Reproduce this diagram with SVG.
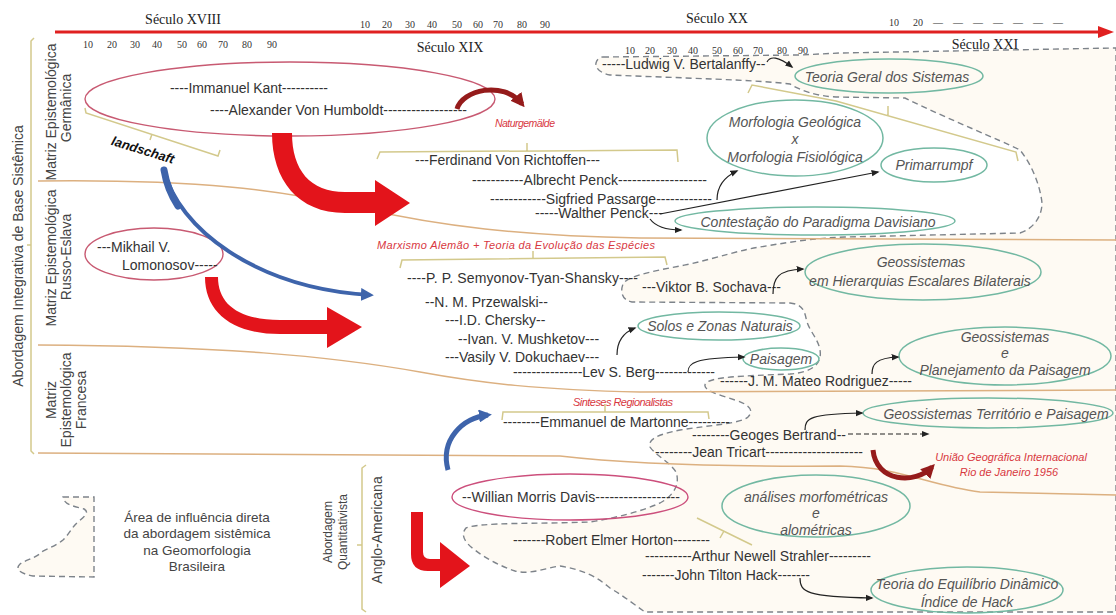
<svg xmlns="http://www.w3.org/2000/svg" width="1116" height="615" viewBox="0 0 1116 615">
<defs>
<style>
text{font-family:"Liberation Sans",Arial,sans-serif;}
.nm{font-size:14px;fill:#333;dominant-baseline:central;}
.cp{font-size:14px;font-style:italic;fill:#555;text-anchor:middle;dominant-baseline:central;}
.rd{font-size:11px;font-style:italic;fill:#d8383f;dominant-baseline:central;}
.cent{font-family:"Liberation Serif","Times New Roman",serif;font-size:14px;fill:#222;text-anchor:middle;}
.num{font-family:"Liberation Serif","Times New Roman",serif;font-size:10px;fill:#333;}
.ax{font-size:14px;fill:#444;text-anchor:middle;dominant-baseline:central;}
.lg{font-size:13.5px;fill:#444;text-anchor:middle;}
.sep{fill:none;stroke:#dcb080;stroke-width:1.5;}
.br{fill:none;stroke:#d3c98c;stroke-width:1.5;}
.pk{fill:none;stroke:#c85a72;stroke-width:1.4;}
.tl{fill:none;stroke:#72b8a2;stroke-width:1.5;}
.cn{fill:none;stroke:#222;stroke-width:1.2;marker-end:url(#ah);}
.big{fill:#e3141b;}
.dr{fill:none;stroke:#951b1b;stroke-width:5;marker-end:url(#ahR);}
.bl{fill:none;stroke:#3e64ab;stroke-width:4;marker-end:url(#ahB);}
.rg{fill:#fefaf3;stroke:#7d838a;stroke-width:1.4;stroke-dasharray:6 4;}
</style>
<marker id="ah" viewBox="0 0 10 10" refX="8" refY="5" markerWidth="8" markerHeight="8" markerUnits="userSpaceOnUse" orient="auto"><path d="M0,1 L10,5 L0,9 z" fill="#222"/></marker>
<marker id="ahR" viewBox="0 0 10 10" refX="7" refY="5" markerWidth="14" markerHeight="14" markerUnits="userSpaceOnUse" orient="auto"><path d="M0,0 L10,5 L0,10 z" fill="#951b1b"/></marker>
<marker id="ahB" viewBox="0 0 10 10" refX="7" refY="5" markerWidth="13" markerHeight="13" markerUnits="userSpaceOnUse" orient="auto"><path d="M0,0 L10,5 L0,10 z" fill="#3e64ab"/></marker>
</defs>
<rect x="0" y="0" width="1116" height="615" fill="#ffffff"/>

<g id="influence-region">
<path class="rg" d="M 603 57 L 800 55 L 840 53 L 1116 48 L 1116 612 L 645 612 C 635 605, 625 597, 610 588 C 598 578, 585 570, 560 566 C 545 568, 530 575, 515 571 C 500 566, 485 558, 475 550 C 465 543, 460 535, 466 528 C 480 522, 540 524, 590 522 C 615 518, 640 512, 660 503 C 675 495, 680 483, 676 472 C 670 462, 655 455, 650 447 C 648 440, 655 435, 680 430 C 710 425, 740 424, 748 417 C 755 410, 748 404, 735 400 C 720 395, 700 390, 706 383 C 712 377, 740 376, 790 374 C 815 372, 822 362, 820 350 C 818 338, 808 330, 806 318 C 804 308, 800 304, 790 303 L 632 302 C 622 300, 620 292, 623 284 C 628 275, 660 270, 690 264 C 720 257, 740 250, 760 247 C 790 242, 815 238, 845 237 L 1020 233 C 1035 228, 1042 215, 1042 203 C 1040 185, 1032 165, 1020 150 C 1000 140, 950 120, 905 98 L 836 97 C 815 96, 800 90, 790 84 C 760 80, 680 78, 610 75 C 600 73, 595 68, 596 63 C 597 59, 600 57, 603 57 Z"/>
</g>

<g id="timeline">
<line x1="55" y1="32" x2="1100" y2="32" stroke="#e02020" stroke-width="3"/>
<polygon points="1098,26 1114,32 1098,38" fill="#e02020"/>
<text class="cent" x="183" y="24">Século XVIII</text>
<text class="cent" x="450" y="52">Século XIX</text>
<text class="cent" x="717" y="23">Século XX</text>
<text class="cent" x="985" y="49">Século XXI</text>
<text class="num" y="48"><tspan x="83">10</tspan><tspan x="107">20</tspan><tspan x="130">30</tspan><tspan x="152">40</tspan><tspan x="177">50</tspan><tspan x="197">60</tspan><tspan x="218">70</tspan><tspan x="242">80</tspan><tspan x="267">90</tspan></text>
<text class="num" y="28"><tspan x="360">10</tspan><tspan x="382">20</tspan><tspan x="405">30</tspan><tspan x="427">40</tspan><tspan x="452">50</tspan><tspan x="473">60</tspan><tspan x="493">70</tspan><tspan x="517">80</tspan><tspan x="540">90</tspan></text>
<text class="num" y="54"><tspan x="625">10</tspan><tspan x="645">20</tspan><tspan x="667">30</tspan><tspan x="688">40</tspan><tspan x="712">50</tspan><tspan x="733">60</tspan><tspan x="753">70</tspan><tspan x="777">80</tspan><tspan x="798">90</tspan></text>
<text class="num" y="26"><tspan x="889">10</tspan><tspan x="913">20</tspan></text>
<text class="num" x="933" y="26" textLength="130">— — — — — — —</text>
</g>

<g id="axis">
<path class="br" d="M 34 38 L 31 41 L 31 451 L 34 454 M 31 245 L 27 245"/>
<text class="ax" x="18" y="256" transform="rotate(-90 18 256)">Abordagem Integrativa  de Base Sistêmica</text>
<text class="ax" x="51" y="112" transform="rotate(-90 51 112)">Matriz Epistemológica</text>
<text class="ax" x="66" y="108" transform="rotate(-90 66 108)">Germânica</text>
<text class="ax" x="51" y="258" transform="rotate(-90 51 258)">Matriz Epistemológica</text>
<text class="ax" x="66" y="257" transform="rotate(-90 66 257)">Russo-Eslava</text>
<text class="ax" x="51" y="400" transform="rotate(-90 51 400)">Matriz</text>
<text class="ax" x="66" y="400" transform="rotate(-90 66 400)">Epistemológica</text>
<text class="ax" x="81" y="400" transform="rotate(-90 81 400)">Francesa</text>
<path class="br" d="M 366 465 L 362 468 L 362 609 L 366 612 M 362 545 L 357 545"/>
<text class="ax" x="328" y="532" transform="rotate(-90 328 532)" style="font-size:12px">Abordagem</text>
<text class="ax" x="343" y="532" transform="rotate(-90 343 532)" style="font-size:12px">Quantitativista</text>
<text class="ax" x="377" y="530" transform="rotate(-90 377 530)">Anglo-Americana</text>
</g>

<g id="separators">
<path class="sep" d="M 38 181 C 200 179, 280 190, 360 208 C 440 226, 520 236, 640 238 L 1116 240"/>
<path class="sep" d="M 38 345 C 220 346, 330 356, 420 372 C 480 383, 540 390, 640 392 L 1116 390"/>
<path class="sep" d="M 38 453 L 560 456 C 620 463, 700 467, 840 466 C 900 467, 930 486, 980 492 L 1116 495"/>
</g>

<g id="kant-humboldt">
<ellipse class="pk" cx="290" cy="99" rx="205" ry="37"/>
<text class="nm" x="170" y="88" textLength="158">----Immanuel Kant----------</text>
<text class="nm" x="210" y="110" textLength="257">----Alexander Von Humboldt------------------</text>
</g>
<g id="landschaft">
<path class="br" d="M 85 108 L 86 113 L 218 156 L 220 150 M 152 134 L 150 140"/>
<text x="143" y="150" transform="rotate(17 143 150)" text-anchor="middle" dominant-baseline="central" style="font-size:13px;font-weight:bold;font-style:italic;fill:#111">landschaft</text>
</g>
<g id="naturgemalde">
<text class="rd" x="495" y="123" textLength="60" style="font-size:10.5px">Naturgemälde</text>
<path class="br" d="M 377 159 L 380 152 L 677 150 L 678 162 M 527 151 L 527 143"/>
</g>
<g id="german-authors">
<text class="nm" x="415" y="160" textLength="185">---Ferdinand Von Richtoffen---</text>
<text class="nm" x="472" y="180" textLength="235">-----------Albrecht Penck-------------------</text>
<text class="nm" x="490" y="199" textLength="222">------------Sigfried Passarge------------</text>
<text class="nm" x="535" y="213">-----Walther Penck---</text>
</g>
<g id="bertalanffy">
<text class="nm" x="602" y="64">-----Ludwig V. Bertalanffy--</text>
</g>
<g id="teoria-geral">
<ellipse class="tl" cx="889" cy="76" rx="94" ry="17"/>
<text class="cp" x="887" y="77">Teoria Geral dos Sistemas</text>
<path class="br" d="M 748 93 L 752 85 L 836 101 L 1016 152 L 1018 161 M 888 116 L 888 106"/>
</g>
<g id="morfologia">
<ellipse class="tl" cx="795" cy="138" rx="88" ry="38"/>
<text class="cp" x="795" y="122">Morfologia Geológica</text>
<text class="cp" x="795" y="139">x</text>
<text class="cp" x="795" y="157">Morfologia Fisiológica</text>
</g>
<g id="primarrumpf">
<ellipse class="tl" cx="934" cy="165" rx="53" ry="17"/>
<text class="cp" x="934" y="165">Primarrumpf</text>
</g>
<g id="contestacao">
<ellipse class="tl" cx="815" cy="221" rx="140" ry="14"/>
<text class="cp" x="818" y="222">Contestação do Paradigma Davisiano</text>
</g>

<g id="lomonosov">
<ellipse class="pk" cx="154" cy="254" rx="69" ry="26"/>
<text class="nm" x="97" y="247">---Mikhail V.</text>
<text class="nm" x="122" y="265">Lomonosov-----</text>
</g>
<g id="marxismo">
<text class="rd" x="377" y="245" textLength="278">Marxismo Alemão + Teoria da Evolução das Espécies</text>
<path class="br" d="M 400 268 L 402 260 L 665 257 L 667 265 M 533 259 L 533 251"/>
</g>
<g id="russian-authors">
<text class="nm" x="407" y="278" textLength="231">----P. P. Semyonov-Tyan-Shansky----</text>
<text class="nm" x="425" y="302">--N. M. Przewalski--</text>
<text class="nm" x="445" y="320">---I.D. Chersky--</text>
<text class="nm" x="458" y="339">--Ivan. V. Mushketov---</text>
<text class="nm" x="445" y="357">---Vasily V. Dokuchaev---</text>
<text class="nm" x="513" y="372" textLength="202">---------------Lev S. Berg-------------</text>
</g>
<g id="sochava">
<text class="nm" x="642" y="287">---Viktor B. Sochava---</text>
</g>
<g id="geossistemas-hierarquias">
<ellipse class="tl" cx="923" cy="272" rx="118" ry="28"/>
<text class="cp" x="921" y="262">Geossistemas</text>
<text class="cp" x="920" y="281">em Hierarquias Escalares Bilaterais</text>
</g>
<g id="solos">
<ellipse class="tl" cx="719" cy="326" rx="81" ry="14"/>
<text class="cp" x="720" y="326">Solos e Zonas Naturais</text>
</g>
<g id="paisagem">
<ellipse class="tl" cx="781" cy="359" rx="38" ry="11"/>
<text class="cp" x="781" y="359">Paisagem</text>
</g>
<g id="mateo">
<text class="nm" x="720" y="381" textLength="192">------J. M. Mateo Rodriguez-----</text>
</g>
<g id="planejamento">
<ellipse class="tl" cx="1005" cy="356" rx="106" ry="29"/>
<text class="cp" x="1005" y="337">Geossistemas</text>
<text class="cp" x="1005" y="353">e</text>
<text class="cp" x="1005" y="370">Planejamento da Paisagem</text>
</g>

<g id="sinteses">
<text class="rd" x="573" y="402" textLength="100">Sinteses Regionalistas</text>
<path class="br" d="M 502 420 L 503 412 L 708 412 L 709 419 M 605 412 L 605 404"/>
</g>
<g id="martonne">
<text class="nm" x="503" y="422" textLength="227">--------Emmanuel de Martonne---------</text>
</g>
<g id="bertrand">
<text class="nm" x="692" y="435" textLength="154">--------Geoges Bertrand--</text>
</g>
<g id="territorio">
<ellipse class="tl" cx="988" cy="413" rx="125" ry="15"/>
<text class="cp" x="996" y="414">Geossistemas Território e Paisagem</text>
</g>
<g id="tricart">
<text class="nm" x="655" y="452" textLength="208">--------Jean Tricart---------------------</text>
</g>
<g id="ugi">
<text class="rd" x="1011" y="457" text-anchor="middle">União Geográfica Internacional</text>
<text class="rd" x="1009" y="472" text-anchor="middle">Rio de Janeiro 1956</text>
</g>

<g id="davis">
<ellipse cx="570" cy="497" rx="118" ry="23" fill="none" stroke="#cc4f7c" stroke-width="1.4"/>
<text class="nm" x="462" y="497" textLength="218">--Willian Morris Davis------------------</text>
</g>
<g id="horton">
<text class="nm" x="513" y="540" textLength="197">-------Robert Elmer Horton--------</text>
</g>
<g id="strahler">
<text class="nm" x="645" y="556" textLength="226">----------Arthur Newell Strahler---------</text>
<path class="br" d="M 697 518 L 752 545 M 724 531 L 720 538"/>
</g>
<g id="hack">
<text class="nm" x="642" y="575" textLength="168">-------John Tilton Hack-------</text>
</g>
<g id="morfometricas">
<ellipse class="tl" cx="816" cy="506" rx="94" ry="31"/>
<text class="cp" x="816" y="497">análises morfométricas</text>
<text class="cp" x="816" y="513">e</text>
<text class="cp" x="816" y="530">alométricas</text>
</g>
<g id="equilibrio">
<ellipse class="tl" cx="967" cy="590" rx="96" ry="23"/>
<text class="cp" x="967" y="584">Teoria do Equilíbrio Dinâmico</text>
<text class="cp" x="967" y="602">Índice de Hack</text>
</g>

<g id="legend">
<path class="rg" d="M 63 497 L 94 497 L 94 577 L 33 576 C 22 574, 14 570, 20 564 C 28 559, 36 558, 43 551 C 52 547, 58 544, 63 540 C 70 533, 72 527, 78 522 C 84 517, 90 512, 84 509 C 74 506, 64 505, 63 497 Z"/>
<text class="lg" x="197" y="522">Área de influência  direta</text>
<text class="lg" x="197" y="538">da abordagem sistêmica</text>
<text class="lg" x="197" y="555">na Geomorfologia</text>
<text class="lg" x="197" y="571">Brasileira</text>
</g>

<g id="connectors">
<path class="big" d="M 272 133 L 292 133 C 292 170, 310 192, 345 192 L 375 192 L 375 180 L 410 203 L 375 226 L 375 213 L 345 213 C 298 213, 272 180, 272 133 Z"/>
<path class="big" d="M 205 277 L 218 277 C 218 305, 240 320, 280 320 L 327 320 L 327 307 L 362 327 L 327 348 L 327 334 L 280 334 C 232 334, 205 312, 205 277 Z"/>
<path class="big" d="M 411 512 L 423 512 L 423 552 Q 423 559 430 559 L 440 559 L 440 542 L 470 566 L 440 588 L 440 571 L 428 571 Q 411 571 411 554 Z"/>
<path class="dr" d="M 457 109 C 462 90, 503 80, 522 104"/>
<path class="dr" d="M 873 450 C 876 482, 915 485, 932 467"/>
<path d="M 164 170 C 166 182, 170 194, 178 206" fill="none" stroke="#3e64ab" stroke-width="7" stroke-linecap="round"/>
<path class="bl" d="M 164 170 C 178 228, 255 288, 370 295"/>
<path class="bl" d="M 448 470 C 440 440, 462 418, 488 415" style="stroke-width:5"/>
<path class="cn" d="M 767 62 C 770 56, 778 56, 792 67"/>
<path class="cn" d="M 717 200 C 717 188, 722 178, 737 171"/>
<path class="cn" d="M 660 214 L 878 172"/>
<path class="cn" d="M 650 219 Q 658 230 681 230"/>
<path class="cn" d="M 773 294 C 773 278, 778 270, 803 269"/>
<path class="cn" d="M 617 355 C 617 342, 622 333, 635 328"/>
<path class="cn" d="M 688 372 C 688 363, 694 358, 744 357"/>
<path class="cn" d="M 872 374 C 872 364, 876 358, 898 357"/>
<path class="cn" d="M 805 430 C 805 418, 810 414, 862 413"/>
<path class="cn" d="M 848 434 L 928 434" stroke-dasharray="5 3"/>
<path class="cn" d="M 800 578 C 800 592, 806 597, 872 598"/>
</g>
</svg>
